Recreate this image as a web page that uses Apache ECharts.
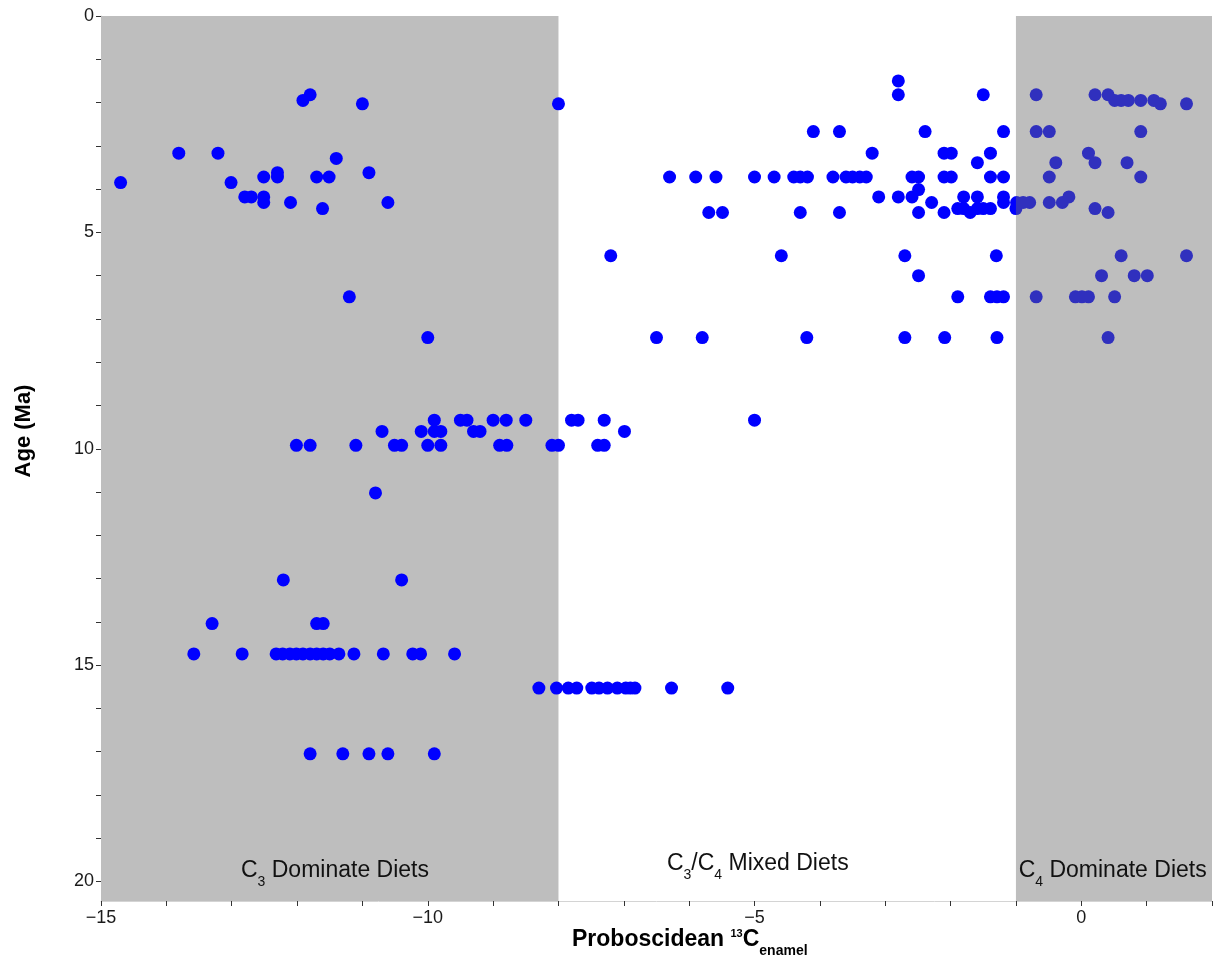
<!DOCTYPE html>
<html>
<head>
<meta charset="utf-8">
<script src="https://cdn.jsdelivr.net/npm/echarts@6/dist/echarts.min.js"></script>
<style>
  html, body { margin: 0; padding: 0; background: #ffffff; }
  #chart { width: 1213px; height: 957px; }
</style>
</head>
<body>
<div id="chart"></div>
<script>
// Sample ages (Ma) and the enamel d13C values measured at each age
const ageLevels = [1.50, 1.82, 1.95, 2.03, 2.67, 3.17, 3.29, 3.39, 3.62, 3.72, 3.85, 4.01, 4.18, 4.31, 4.45, 4.54,
                   5.54, 6.00, 6.49, 7.43, 9.34, 9.60, 9.92, 11.02, 13.03, 14.04, 14.74, 15.53, 17.05];
const d13cByAge = [
  [-2.80],
  [-11.80, -2.80, -1.50, -0.69, 0.21, 0.41],
  [-11.91, 0.51, 0.61, 0.72, 0.91, 1.11],
  [-11.00, -8.00, 1.21, 1.61],
  [-4.10, -3.70, -2.39, -1.19, -0.69, -0.49, 0.91],
  [-13.81, -13.21, -3.20, -2.10, -1.99, -1.39, 0.11],
  [-11.40],
  [-1.59, -0.39, 0.21, 0.70],
  [-12.30, -10.90],
  [-12.51, -12.30, -11.70, -11.51, -6.30, -5.90, -5.59, -5.00, -4.70, -4.40, -4.30, -4.19, -3.80, -3.60, -3.50,
   -3.39, -3.29, -2.59, -2.49, -2.10, -1.99, -1.39, -1.19, -0.49, 0.91],
  [-14.70, -13.01],
  [-2.49],
  [-12.80, -12.70, -12.51, -3.10, -2.80, -2.59, -1.80, -1.59, -1.19, -0.19],
  [-12.51, -12.10, -10.61, -2.29, -1.19, -0.99, -0.89, -0.79, -0.49, -0.29],
  [-11.61, -1.89, -1.80, -1.59, -1.50, -1.39, -1.00, 0.21],
  [-5.70, -5.49, -4.30, -3.70, -2.49, -2.10, -1.70, 0.41],
  [-7.20, -4.59, -2.70, -1.30, 0.61, 1.61],
  [-2.49, 0.31, 0.81, 1.01],
  [-11.20, -1.89, -1.39, -1.29, -1.19, -0.69, -0.09, 0.01, 0.11, 0.51],
  [-10.00, -6.50, -5.80, -4.20, -2.70, -2.09, -1.29, 0.41],
  [-9.90, -9.50, -9.40, -9.00, -8.80, -8.50, -7.80, -7.70, -7.30, -5.00],
  [-10.70, -10.10, -9.90, -9.80, -9.30, -9.20, -6.99],
  [-12.01, -11.80, -11.10, -10.51, -10.40, -10.00, -9.80, -8.90, -8.79, -8.10, -8.00, -7.40, -7.30],
  [-10.80],
  [-12.21, -10.40],
  [-13.30, -11.70, -11.60],
  [-13.58, -12.84, -12.32, -12.22, -12.11, -12.01, -11.91, -11.80, -11.70, -11.60, -11.50, -11.36, -11.13,
   -10.68, -10.23, -10.11, -9.59],
  [-8.30, -8.03, -7.85, -7.72, -7.49, -7.38, -7.25, -7.10, -6.97, -6.90, -6.83, -6.27, -5.41],
  [-11.80, -11.30, -10.90, -10.61, -9.90]
];

// Diet zones along the d13C axis
const regionStart = [-15, -8, -1];
const regionEnd = [-8, -1, 2];
const regionLabels = [
  '{c|C}{s|3}{c| Dominate Diets}',
  '{c|C}{s|3}{c|/C}{s|4}{c| Mixed Diets}',
  '{c|C}{s|4}{c| Dominate Diets}'
];
const regionLabelX = [-11.42, -4.95, 0.48];
const regionLabelAge = [19.49, 19.33, 19.49];

// Axis ticks
const xTicks = [-15, -14, -13, -12, -11, -10, -9, -8, -7, -6, -5, -4, -3, -2, -1, 0, 1, 2];
const xTickLabels = [-15, -10, -5, 0];
const yTicks = [0, 1, 2, 3, 4, 5, 6, 7, 8, 9, 10, 11, 12, 13, 14, 15, 16, 17, 18, 19, 20];
const yTickLabels = [0, 5, 10, 15, 20];
const X_MIN = -15, X_MAX = 2, Y_MIN = 0, Y_MAX = 20.45;

const FONT = '"Liberation Sans", Arial, Helvetica, sans-serif';

const points = [];
ageLevels.forEach((age, i) => {
  d13cByAge[i].forEach(v => points.push([v, age]));
});

function shadeItem(fill) {
  return function (params, api) {
    const p0 = api.coord([api.value(0), Y_MIN]);
    const p1 = api.coord([api.value(1), Y_MAX]);
    return {
      type: 'rect',
      shape: { x: p0[0], y: p0[1], width: p1[0] - p0[0], height: p1[1] - p0[1] },
      style: { fill: fill }
    };
  };
}

// main glyphs hang from the top of the line, subscripts sit at its bottom
const labelRich = {
  c: { fontSize: 23, fontFamily: FONT, lineHeight: 23, verticalAlign: 'top', fill: '#111' },
  s: { fontSize: 14, fontFamily: FONT, lineHeight: 30, verticalAlign: 'bottom', fill: '#111' }
};

const chart = echarts.init(document.getElementById('chart'), null, { renderer: 'canvas' });

chart.setOption({
  animation: false,
  backgroundColor: '#ffffff',
  grid: { left: 101, right: 1, top: 16, bottom: 56, containLabel: false, outerBoundsMode: 'none' },
  xAxis: {
    type: 'value',
    min: X_MIN,
    max: X_MAX,
    interval: 1,
    splitLine: { show: false },
    axisLine: { show: true, onZero: false, lineStyle: { color: '#d4d4d4', width: 1 } },
    axisTick: { show: true, customValues: xTicks, length: 5, lineStyle: { color: '#333', width: 1 } },
    axisLabel: {
      customValues: xTickLabels,
      margin: 8,
      fontSize: 18,
      fontFamily: FONT,
      color: '#1a1a1a',
      formatter: v => (v < 0 ? '\u2212' + Math.abs(v) : String(v))
    }
  },
  yAxis: {
    type: 'value',
    inverse: true,
    min: Y_MIN,
    max: Y_MAX,
    interval: 1,
    splitLine: { show: false },
    axisLine: { show: true, onZero: false, lineStyle: { color: '#d4d4d4', width: 1 } },
    axisTick: { show: true, customValues: yTicks, length: 5, lineStyle: { color: '#333', width: 1 } },
    axisLabel: {
      customValues: yTickLabels,
      margin: 7,
      fontSize: 18,
      fontFamily: FONT,
      color: '#1a1a1a'
    }
  },
  graphic: [
    {
      type: 'text',
      left: 572,
      top: 928,
      style: {
        text: '{m|Proboscidean }{p|13}{m|C}{b|enamel}',
        rich: {
          m: { fontSize: 23, fontWeight: 'bold', fontFamily: FONT, lineHeight: 23, verticalAlign: 'top', fill: '#000' },
          p: { fontSize: 11, fontWeight: 'bold', fontFamily: FONT, lineHeight: 15, verticalAlign: 'top', fill: '#000' },
          b: { fontSize: 14, fontWeight: 'bold', fontFamily: FONT, lineHeight: 30, verticalAlign: 'bottom', fill: '#000' }
        }
      }
    },
    {
      type: 'text',
      x: 24,
      y: 431,
      rotation: Math.PI / 2,
      style: {
        text: 'Age (Ma)',
        fontSize: 22,
        fontWeight: 'bold',
        fontFamily: FONT,
        fill: '#000',
        align: 'center',
        verticalAlign: 'middle'
      }
    }
  ],
  series: [
    {
      name: 'C3 zone',
      type: 'custom',
      z: 1,
      silent: true,
      encode: { x: [0, 1] },
      data: [[regionStart[0], regionEnd[0]]],
      renderItem: shadeItem('#bebebe')
    },
    {
      name: 'Proboscidean samples',
      type: 'scatter',
      z: 2,
      symbol: 'circle',
      symbolSize: 13,
      itemStyle: { color: '#0000ff', opacity: 1 },
      emphasis: { disabled: true },
      data: points
    },
    {
      name: 'C4 zone',
      type: 'custom',
      z: 3,
      silent: true,
      encode: { x: [0, 1] },
      data: [[regionStart[2], regionEnd[2]]],
      renderItem: shadeItem('rgba(108,108,108,0.443)')
    },
    {
      name: 'Zone labels',
      type: 'custom',
      z: 4,
      silent: true,
      encode: { x: 0, y: 1 },
      data: regionLabelX.map((x, i) => [x, regionLabelAge[i], i]),
      renderItem: function (params, api) {
        const p = api.coord([api.value(0), api.value(1)]);
        return {
          type: 'text',
          x: p[0],
          y: p[1],
          style: {
            text: regionLabels[api.value(2)],
            rich: labelRich,
            align: 'center',
            verticalAlign: 'top',
            fontSize: 23,
            fontFamily: FONT,
            fill: '#111'
          }
        };
      }
    }
  ]
});
</script>
</body>
</html>
